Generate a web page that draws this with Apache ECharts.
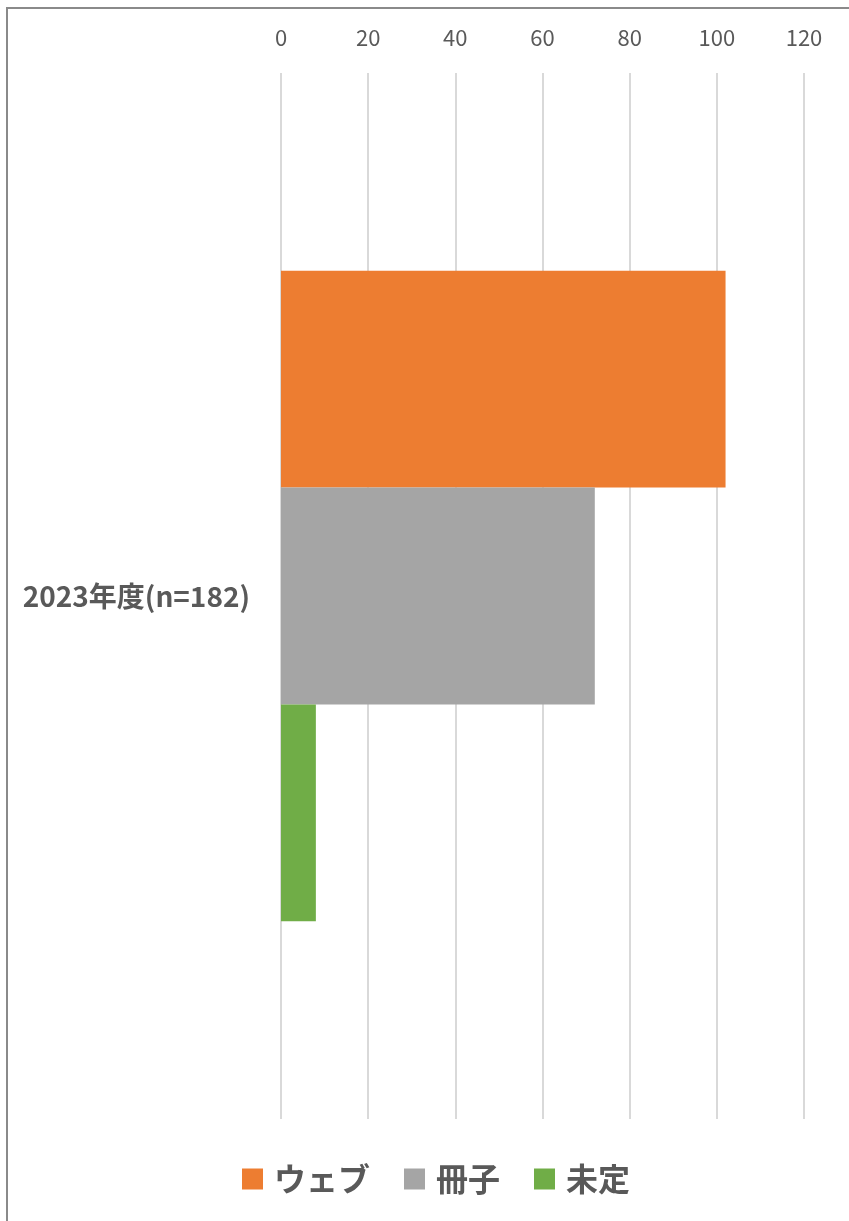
<!DOCTYPE html>
<html>
<head>
<meta charset="utf-8">
<script src="https://cdn.jsdelivr.net/npm/echarts@6/dist/echarts.min.js"></script>
<style>
  html, body { margin: 0; padding: 0; background: #ffffff; }
  #frame {
    position: absolute; left: 6px; top: 7px; width: 843px; height: 1214px;
    border-top: 2px solid #8a8a8a; border-left: 2px solid #8a8a8a;
    box-sizing: border-box;
  }
  #chart { position: absolute; left: 0; top: 0; width: 849px; height: 1221px; }
</style>
</head>
<body>
<div id="frame"></div>
<div id="chart"></div>
<script>
// Survey categories and counts per delivery format
const categories = ['2023年度(n=182)'];
const seriesNames = ['ウェブ', '冊子', '未定'];
const webValues = [102];
const bookletValues = [72];
const undecidedValues = [8];
const seriesColors = ['#ED7D31', '#A5A5A5', '#70AD47'];

const FONT = '"Noto Sans CJK JP", "Noto Sans", sans-serif';
const TEXT_COLOR = '#595959';

const chart = echarts.init(document.getElementById('chart'), null, { renderer: 'canvas' });

const values = [webValues, bookletValues, undecidedValues];

chart.setOption({
  animation: false,
  backgroundColor: 'transparent',
  grid: { left: 281, right: 45, top: 73, bottom: 102, containLabel: false },
  legend: {
    data: seriesNames,
    bottom: 26,
    left: 242,
    padding: 0,
    icon: 'rect',
    itemWidth: 21,
    itemHeight: 21,
    itemGap: 34,
    textStyle: { fontFamily: FONT, fontSize: 32, fontWeight: 'bold', color: TEXT_COLOR, padding: [0, 0, 0, 6] }
  },
  xAxis: {
    type: 'value',
    position: 'top',
    min: 0,
    max: 120,
    interval: 20,
    axisLine: { show: false },
    axisTick: { show: false },
    axisLabel: { fontFamily: FONT, fontSize: 22, color: TEXT_COLOR, margin: 24 },
    splitLine: { show: true, lineStyle: { color: '#d9d9d9', width: 2 } }
  },
  yAxis: {
    type: 'category',
    data: categories,
    inverse: true,
    axisLine: { show: false },
    axisTick: { show: false },
    axisLabel: { fontFamily: FONT, fontSize: 28, fontWeight: 'bold', color: TEXT_COLOR, margin: 31 }
  },
  series: seriesNames.map((name, i) => ({
    name: name,
    type: 'bar',
    data: values[i],
    barGap: '0%',
    barCategoryGap: '37.8%',
    itemStyle: { color: seriesColors[i] }
  }))
});
</script>
</body>
</html>
